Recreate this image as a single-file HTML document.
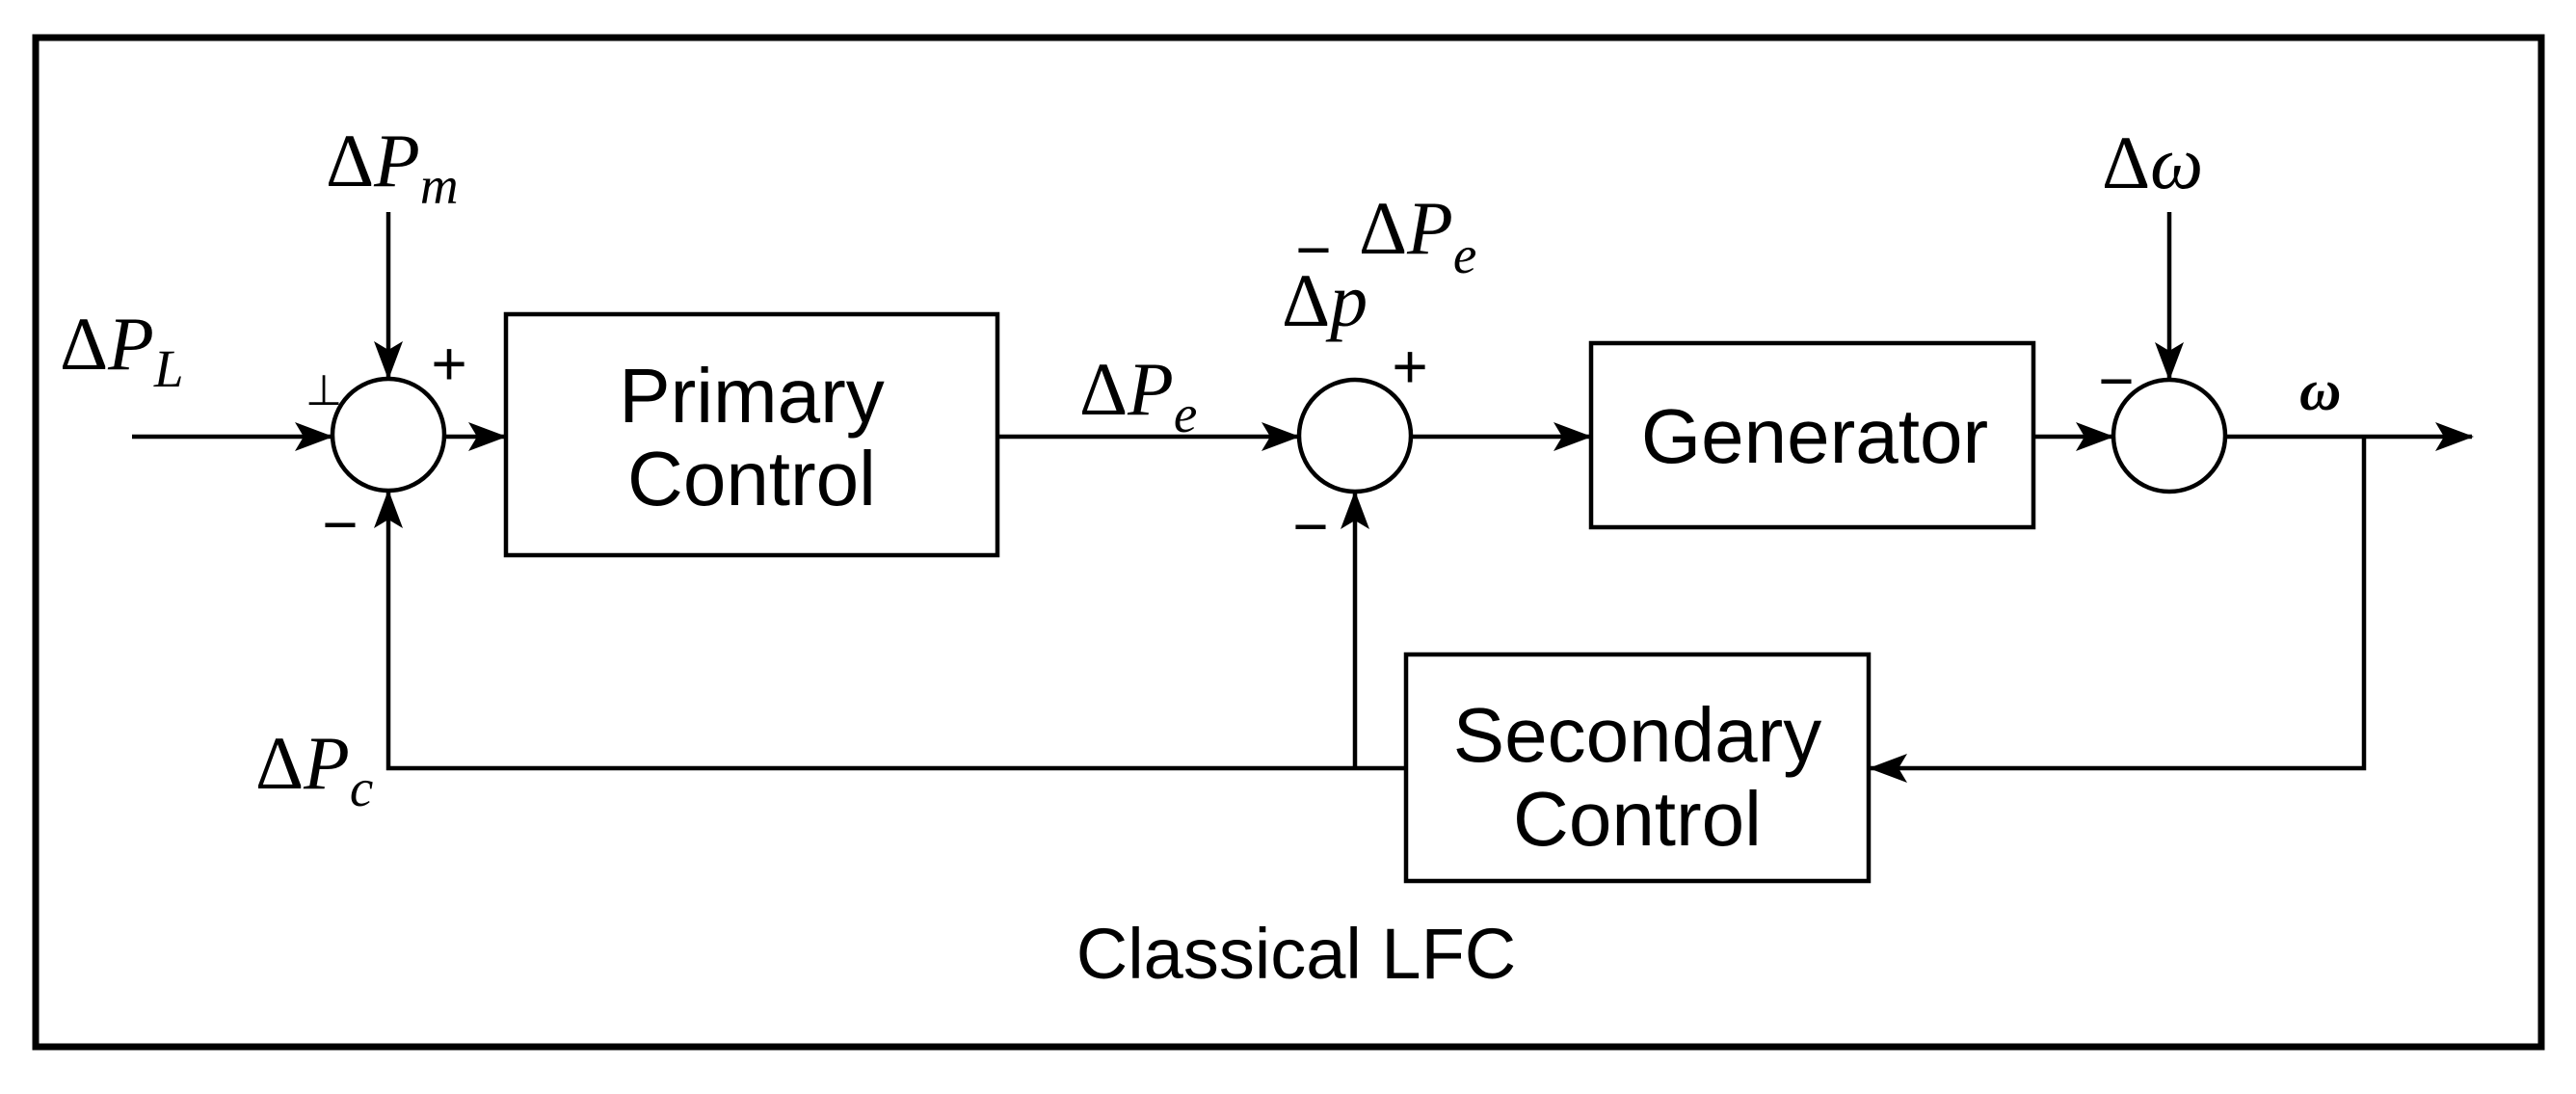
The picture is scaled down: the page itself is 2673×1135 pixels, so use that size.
<!DOCTYPE html>
<html><head><meta charset="utf-8"><style>
html,body{margin:0;padding:0;background:#fff;}
svg{display:block;}
.m{font-family:"Liberation Serif",serif;font-style:italic;font-size:78px;}
.d{font-style:normal;}
.s{font-family:"Liberation Sans",sans-serif;font-size:80px;}
.sg{font-family:"Liberation Sans",sans-serif;font-size:64px;}
</style></head><body>
<svg width="2673" height="1135" viewBox="0 0 2673 1135" xmlns="http://www.w3.org/2000/svg">
<defs>
<marker id="a" markerWidth="40" markerHeight="30" refX="38" refY="15" orient="auto" markerUnits="userSpaceOnUse">
<path d="M0,0 L40,15 L0,30 L9,15 Z" fill="#000"/>
</marker>
</defs>
<rect x="37" y="39" width="2600" height="1047" fill="#fff" stroke="#000" stroke-width="7"/>
<g stroke="#000" stroke-width="4.5" fill="none">
<circle cx="403" cy="451" r="58"/>
<circle cx="1406" cy="452" r="58"/>
<circle cx="2251" cy="452" r="58"/>
<rect x="525" y="326" width="510" height="250"/>
<rect x="1651" y="356" width="459" height="191"/>
<rect x="1459" y="679" width="480" height="235"/>
<line x1="137" y1="453" x2="344" y2="453" marker-end="url(#a)"/>
<line x1="403" y1="220" x2="403" y2="392" marker-end="url(#a)"/>
<line x1="462" y1="453" x2="524" y2="453" marker-end="url(#a)"/>
<line x1="1035" y1="453" x2="1347" y2="453" marker-end="url(#a)"/>
<line x1="1465" y1="453" x2="1650" y2="453" marker-end="url(#a)"/>
<line x1="2110" y1="453" x2="2192" y2="453" marker-end="url(#a)"/>
<line x1="2251" y1="220" x2="2251" y2="393" marker-end="url(#a)"/>
<line x1="2310" y1="453" x2="2565" y2="453" marker-end="url(#a)"/>
<polyline points="2453,453 2453,797 1941,797" marker-end="url(#a)"/>
<polyline points="1459,797 403,797 403,510" marker-end="url(#a)"/>
<line x1="1406" y1="797" x2="1406" y2="511" marker-end="url(#a)"/>
</g>
<g text-anchor="middle" class="s">
<text x="780" y="438">Primary</text>
<text x="780" y="524">Control</text>
<text x="1883" y="480">Generator</text>
<text x="1699" y="790">Secondary</text>
<text x="1699" y="877">Control</text>
<text x="1345" y="1015" font-size="74">Classical LFC</text>
</g>
<g class="sg" text-anchor="middle">
<text x="466" y="399">+</text>
<text x="1463" y="402">+</text>
<text x="353" y="566">−</text>
<text x="1360" y="568">−</text>
<text x="1363" y="281">−</text>
<text x="2196" y="417">−</text>
<text x="336" y="420" style="font-size:44px">⊥</text>
</g>
<g class="m">
<text x="338" y="193"><tspan class="d">Δ</tspan>P<tspan font-size="55" dy="18">m</tspan></text>
<text x="62" y="383"><tspan class="d">Δ</tspan>P<tspan font-size="55" dy="18">L</tspan></text>
<text x="1120" y="430"><tspan class="d">Δ</tspan>P<tspan font-size="55" dy="18">e</tspan></text>
<text x="1410" y="263"><tspan class="d">Δ</tspan>P<tspan font-size="55" dy="20">e</tspan></text>
<text x="1330" y="338"><tspan class="d">Δ</tspan>p</text>
<text x="265" y="818"><tspan class="d">Δ</tspan>P<tspan font-size="55" dy="18">c</tspan></text>
<text x="2181" y="195"><tspan class="d">Δ</tspan>ω</text>
<text x="2386" y="425" font-weight="bold" font-size="60">ω</text>
</g>
</svg>
</body></html>
